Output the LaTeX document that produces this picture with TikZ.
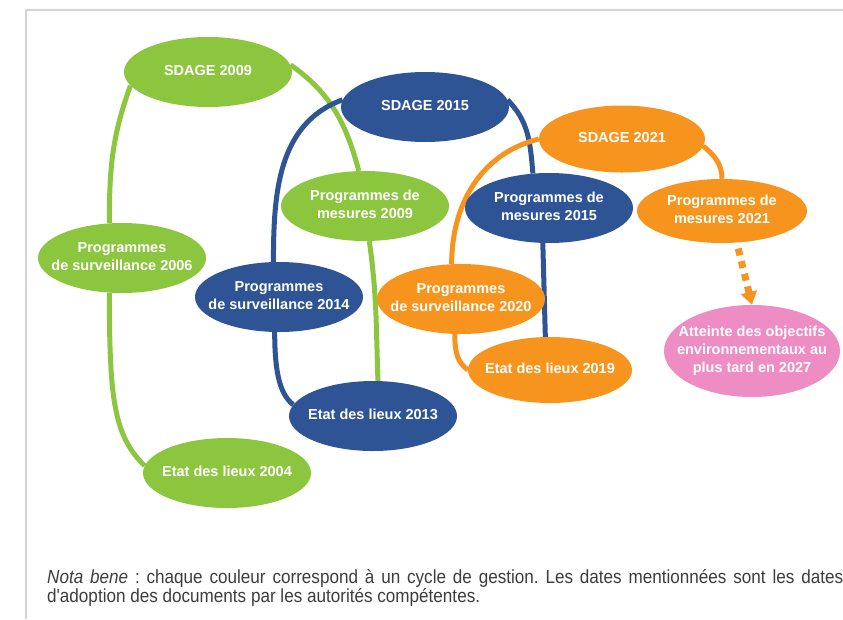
\documentclass[tikz,border=0pt]{standalone}
\usepackage{fontspec}
\setmainfont{Liberation Sans}
\newfontfamily\notefont[FakeStretch=0.9]{Liberation Sans}
\usepackage{tikz}
\usetikzlibrary{arrows.meta,shapes.geometric,backgrounds}
\definecolor{cycGreen}{RGB}{140,198,63}
\definecolor{cycBlue}{RGB}{46,84,150}
\definecolor{cycOrange}{RGB}{247,148,30}
\definecolor{goalPink}{RGB}{238,140,196}
\definecolor{frameGray}{RGB}{212,212,212}
\definecolor{noteGray}{RGB}{60,60,60}
\newcommand{\ovaltext}[1]{\makebox[0pt]{\begin{tabular}{@{}c@{}}#1\end{tabular}}}
\tikzset{
  oval/.style={ellipse, minimum width=168pt, minimum height=70pt, inner sep=0pt,
    text=white, font=\bfseries\fontsize{14.5}{18}\selectfont},
  link/.style={line width=5pt},
  goalarrow/.style={cycOrange, line width=7pt, dash pattern=on 7pt off 6pt,
    shorten <=6pt, -{Triangle[width=16pt,length=13pt]}},
  notetext/.style={inner sep=0pt, text width=796pt, align=justify, text=noteGray,
    font=\notefont\fontsize{19}{19.5}\selectfont\frenchspacing}
}

\begin{document}
\begin{tikzpicture}[x=1pt,y=1pt]
  \useasboundingbox (0,0) rectangle (843,-619);
  \draw[frameGray,line width=2pt] (26,-619) -- (26,-10) -- (843,-10);
  % cycle 2009
  \node[oval,fill=cycGreen] (s09) at (208,-72) {\ovaltext{SDAGE 2009}};
  \node[oval,fill=cycGreen] (mes09) at (365,-206) {\ovaltext{Programmes de\\mesures 2009}};
  \node[oval,fill=cycGreen] (sv06) at (122,-258) {\ovaltext{Programmes\\de surveillance 2006}};
  \node[oval,fill=cycGreen] (e04) at (227,-473) {\ovaltext{Etat des lieux 2004}};
  % cycle 2015
  \node[oval,fill=cycBlue] (s15) at (425,-107) {\ovaltext{SDAGE 2015}};
  \node[oval,fill=cycBlue] (mes15) at (549,-208) {\ovaltext{Programmes de\\mesures 2015}};
  \node[oval,fill=cycBlue] (sv14) at (279,-297) {\ovaltext{Programmes\\de surveillance 2014}};
  \node[oval,fill=cycBlue] (e13) at (373,-416) {\ovaltext{Etat des lieux 2013}};
  % cycle 2021
  \node[oval,fill=cycOrange,minimum width=166pt,minimum height=67pt] (s21) at (622,-139) {\ovaltext{SDAGE 2021}};
  \node[oval,fill=cycOrange,minimum width=170pt,minimum height=64pt] (mes21) at (722,-211) {\ovaltext{Programmes de\\mesures 2021}};
  \node[oval,fill=cycOrange] (sv20) at (461,-299) {\ovaltext{Programmes\\de surveillance 2020}};
  \node[oval,fill=cycOrange,minimum width=164pt,minimum height=66pt] (e19) at (550,-370) {\ovaltext{Etat des lieux 2019}};
  % objectif
  \node[oval,fill=goalPink,minimum width=176pt,minimum height=92pt] (goal) at (752,-351)
    {\ovaltext{Atteinte des objectifs\\environnementaux au\\plus tard en 2027}};

  \begin{scope}[on background layer]
    \draw[link,cycGreen] (s09.190) to[out=250,in=90] (sv06.110);
    \draw[link,cycGreen] (sv06.250) .. controls +(0,-110) and +(-30,30) .. (e04.175);
    \draw[link,cycGreen] (s09.5) to[out=-35,in=105] (mes09.100);
    \draw[link,cycGreen] (mes09.-83) to[out=-82,in=92] (e13.82);
    \draw[link,cycBlue] (s15.175) to[out=200,in=90] (sv14.99);
    \draw[link,cycBlue] (s15.5) to[out=-45,in=95] (mes15.115);
    \draw[link,cycBlue] (mes15.-100) -- (e19.98);
    \draw[link,cycBlue] (sv14.-97) .. controls +(0,-45) and +(-12,10) .. (e13.172);
    \draw[link,cycOrange] (s21.180) to[out=194,in=90] (sv20.105);
    \draw[link,cycOrange] (s21.-5) to[out=-40,in=90] (mes21.north);
    \draw[link,cycOrange] (sv20.-100) .. controls +(0,-20) and +(-10,8) .. (e19.west);
  \end{scope}

  \draw[goalarrow] (mes21.-65) -- (goal.north);

  \node[notetext,anchor=north west] (note) at (47,-569)
    {\textit{Nota bene} : chaque couleur correspond à un cycle de gestion. Les dates mentionnées sont les dates\linebreak
     d'adoption des documents par les autorités compétentes.};
\end{tikzpicture}
\end{document}
